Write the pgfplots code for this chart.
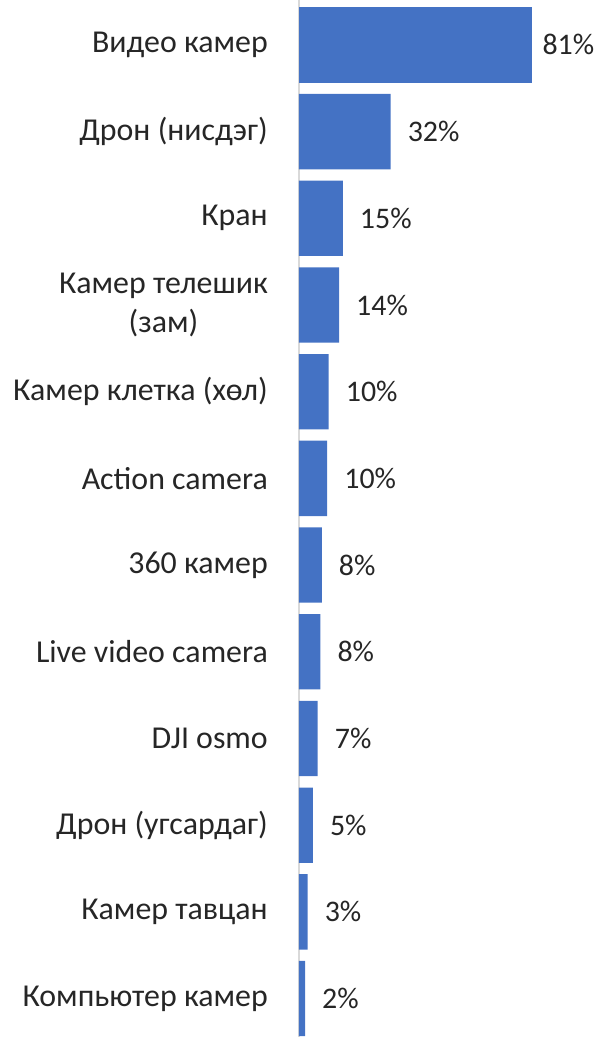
\documentclass[border=0pt]{standalone}
\usepackage{pgfplots}
\pgfplotsset{compat=1.18}
\usepackage{fontspec}
\setmainfont{Carlito}
\definecolor{barblue}{HTML}{4472C4}
\definecolor{txt}{HTML}{262626}
\definecolor{axgray}{HTML}{D9D9D9}
\begin{document}
\begin{tikzpicture}
\begin{axis}[
  name=ax,
  scale only axis,
  width=303bp, height=1037bp,
  xmin=0, xmax=105.2,
  ymin=-11.443, ymax=0.518,
  xbar, bar width=75.3bp, bar shift=0pt,
  hide x axis,
  axis y line=left,
  y axis line style={-, draw=axgray, line width=1.6bp},
  major tick length=0pt,
  ytick style={draw=none},
  ytick={0,-1,-2,-3,-4,-5,-6,-7,-8,-9,-10,-11},
  yticklabels={Видео камер, Дрон (нисдэг), Кран, {Камер телешик\\(зам)}, Камер клетка (хөл), Action camera, 360 камер, Live video camera, DJI osmo, Дрон (угсардаг), Камер тавцан, Компьютер камер},
  yticklabel style={font=\fontsize{32}{40}\selectfont, text=txt, align=center, anchor=east, inner sep=0pt, xshift=-31bp},
  point meta=explicit symbolic,
  nodes near coords={\pgfplotspointmeta\%},
  nodes near coords style={font=\fontsize{30}{36}\selectfont, text=txt, anchor=west, inner sep=0pt},
]
\addplot[fill=barblue, draw=none, nodes near coords style={xshift=10bp}] table[meta=lbl] {
x y lbl
81.0 0 81
};
\addplot[fill=barblue, draw=none, nodes near coords style={xshift=17bp}] table[meta=lbl] {
x y lbl
31.8 -1 32
15.2 -2 15
13.9 -3 14
10.3 -4 10
9.8 -5 10
7.9 -6 8
7.4 -7 8
6.5 -8 7
4.8 -9 5
3.0 -10 3
2.1 -11 2
};
\end{axis}
\pgfresetboundingbox
\path ([xshift=-299bp]ax.south west) rectangle (ax.north east);
\end{tikzpicture}
\end{document}
